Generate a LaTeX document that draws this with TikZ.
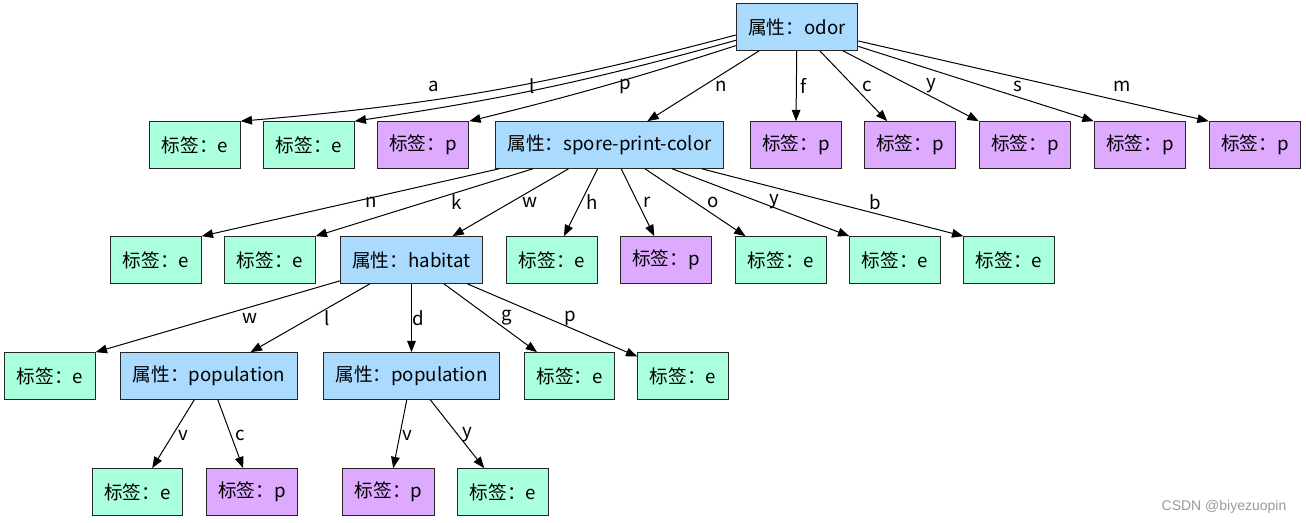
\documentclass[tikz,border=0pt]{standalone}
\usepackage{fontspec}
\setmainfont{Noto Sans CJK SC}
\newfontfamily\markfont{Liberation Sans}
\usetikzlibrary{arrows.meta}
\definecolor{attr}{RGB}{170,219,255}
\definecolor{leafe}{RGB}{170,255,221}
\definecolor{leafp}{RGB}{221,170,255}

\begin{document}
\begin{tikzpicture}[x=0.75pt,y=-0.75pt,
        box/.style={draw=black!85,line width=0.75pt,minimum height=35pt,inner xsep=9pt,font=\fontsize{14}{16}\selectfont},
        attrbox/.style={box,fill=attr},
        ebox/.style={box,fill=leafe},
        pbox/.style={box,fill=leafp},
        edge/.style={-{Triangle[length=8.5pt,width=6.5pt]},line width=0.75pt},
        lbl/.style={font=\fontsize{14}{16}\selectfont,inner sep=0pt}]
    \useasboundingbox (0,0) rectangle (1306,523);

    \node[attrbox] (odor) at (797,27) {属性：odor};

    \node[ebox] (oa) at (195,145) {标签：e};
    \node[ebox] (ol) at (309,145) {标签：e};
    \node[pbox] (op) at (423,145) {标签：p};
    \node[attrbox] (spc) at (609.5,145) {属性：spore-print-color};
    \node[pbox] (of) at (796,145) {标签：p};
    \node[pbox] (oc) at (910,145) {标签：p};
    \node[pbox] (oy) at (1025,145) {标签：p};
    \node[pbox] (os) at (1140,145) {标签：p};
    \node[pbox] (om) at (1255,145) {标签：p};

    \node[ebox] (sn) at (156,260) {标签：e};
    \node[ebox] (sk) at (270,260) {标签：e};
    \node[attrbox] (hab) at (411.5,260) {属性：habitat};
    \node[ebox] (sh) at (552,260) {标签：e};
    \node[pbox] (sr) at (666,260) {标签：p};
    \node[ebox] (so) at (781,260) {标签：e};
    \node[ebox] (sy) at (895,260) {标签：e};
    \node[ebox] (sb) at (1009,260) {标签：e};

    \node[ebox] (hw) at (50,376) {标签：e};
    \node[attrbox] (popl) at (209,376) {属性：population};
    \node[attrbox] (popd) at (411.5,376) {属性：population};
    \node[ebox] (hg) at (569.5,376) {标签：e};
    \node[ebox] (hp) at (683,376) {标签：e};

    \node[ebox] (lv) at (137.5,492) {标签：e};
    \node[pbox] (lc) at (252,492) {标签：p};
    \node[pbox] (dv) at (388.5,492) {标签：p};
    \node[ebox] (dy) at (503,492) {标签：e};

    % odor
    \foreach \t/\l/\x/\b/\d in {oa/a/434/5/-6,ol/l/532/3.5/-10,op/p/625/2/-14}{
        \draw[edge] ([yshift=\d pt]odor.west) to[bend left=\b] (\t.north east);
        \node[lbl] (e-\t) at (\x,86) {\l};
    }
    \foreach \t in {spc,of.north,oc,oy.north west,os.north west,om.north west}{
        \draw[edge] (odor) -- (\t);
    }
    \foreach \t/\l/\x in {spc/n/721,of/f/804,oc/c/867,oy/y/931,os/s/1018,om/m/1122}{
        \node[lbl] (e-\t) at (\x,86) {\l};
    }
    % spore-print-color
    \draw[edge] ([xshift=3pt]spc.south west) -- (sn.north east);
    \draw[edge] (spc) -- (sk.north east);
    \foreach \t in {hab,sh,sr,so,sy.north west,sb.north west}{
        \draw[edge] (spc) -- (\t);
    }
    \foreach \t/\l/\x in {sn/n/371,sk/k/457,hab/w/530,sh/h/592,sr/r/647,so/o/713,sy/y/774,sb/b/875}{
        \node[lbl] (e-\t) at (\x,202) {\l};
    }
    % habitat
    \foreach \t in {hw.north east,popl,popd,hg,hp}{
        \draw[edge] (hab) -- (\t);
    }
    \foreach \t/\l/\x in {hw/w/250,popl/l/327,popd/d/418,hg/g/507,hp/p/570}{
        \node[lbl] (e-\t) at (\x,318) {\l};
    }
    % population
    \foreach \s/\t/\l/\x in {popl/lv/v/183,popl/lc/c/240,popd/dv/v/407,popd/dy/y/467}{
        \draw[edge] (\s) -- (\t);
        \node[lbl] (e-\t) at (\x,435) {\l};
    }

    \node[font=\markfont\fontsize{10.5}{12}\selectfont,text=black!40] (mark) at (1224,507) {CSDN @biyezuopin};
\end{tikzpicture}
\end{document}
